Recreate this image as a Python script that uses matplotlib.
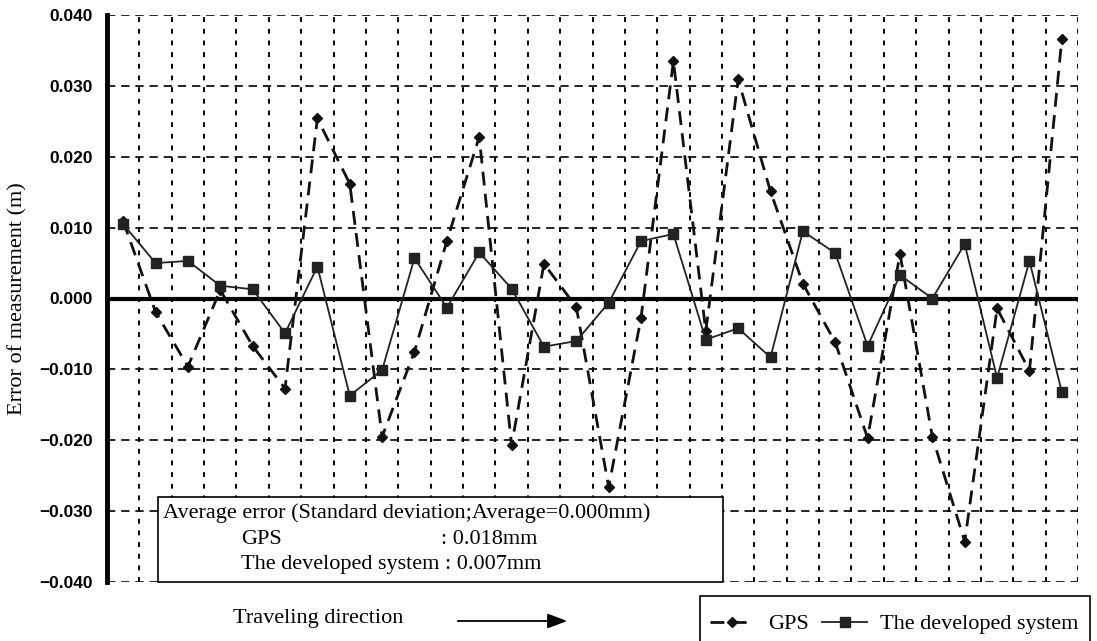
import numpy as np
import matplotlib
matplotlib.use("Agg")
import matplotlib.pyplot as plt
from matplotlib.patches import Rectangle

# measurement points along the travel path (30 points)
points = list(range(30))

# error of GPS (m)
gps = [0.0109, -0.0019, -0.0096, 0.0012, -0.0067, -0.0127, 0.0254, 0.0162, -0.0195, -0.0075,
       0.0081, 0.0228, -0.0207, 0.0049, -0.0012, -0.0266, -0.0027, 0.0335, -0.0046, 0.0309,
       0.0151, 0.0021, -0.0062, -0.0197, 0.0063, -0.0195, -0.0343, -0.0014, -0.0102, 0.0366]

# error of the developed system (m)
developed = [0.0105, 0.0050, 0.0053, 0.0018, 0.0013, -0.0049, 0.0045, -0.0137, -0.0101, 0.0057,
             -0.0013, 0.0065, 0.0014, -0.0068, -0.0060, -0.0006, 0.0081, 0.0091, -0.0058, -0.0042,
             -0.0083, 0.0095, 0.0064, -0.0067, 0.0033, 0.0000, 0.0077, -0.0112, 0.0053, -0.0132]

yticks = [-0.04, -0.03, -0.02, -0.01, 0.0, 0.01, 0.02, 0.03, 0.04]
ytick_labels = ["\u22120.040", "\u22120.030", "\u22120.020", "\u22120.010", "0.000",
                "0.010", "0.020", "0.030", "0.040"]

W, H = 1097, 641
fig = plt.figure(figsize=(W / 100, H / 100), dpi=100)
ax = fig.add_axes([107 / W, 1 - 582 / H, (1078 - 107) / W, (582 - 15) / H])

serif = "Liberation Serif"

# grid: dashed horizontals, dotted verticals at point boundaries
ax.set_xlim(-0.5, 29.5)
ax.set_ylim(-0.04, 0.04)
ax.set_xticks(np.arange(-0.5, 30, 1))
ax.set_xticklabels([])
ax.set_yticks(yticks)
ax.set_yticklabels(ytick_labels, fontfamily="Liberation Sans", fontweight="bold", fontsize=12.5)
ax.tick_params(length=0, pad=10)
ax.grid(axis="y", color="black", linestyle=(0, (5, 3.5)), linewidth=1.2)
ax.grid(axis="x", color="black", linestyle=(0, (2.5, 3.5)), linewidth=1.4)
for s in ["top", "right", "bottom"]:
  ax.spines[s].set_visible(False)
ax.spines["left"].set_linewidth(3.5)

ax.axhline(0, color="black", linewidth=3, zorder=2)

ax.plot(points, gps, color="#111111", linestyle=(0, (5, 3)), linewidth=2,
        marker="D", markersize=5.5, label="GPS", zorder=3)
ax.plot(points, developed, color="#222222", linestyle="-", linewidth=1.3,
        marker="s", markersize=7, label="The developed system", zorder=4)

ax.set_ylabel("Error of measurement (m)", fontfamily=serif, fontsize=16)
ax.yaxis.set_label_coords((27 - 107) / (1078 - 107), 0.5)

# statistics box
fig.patches.append(Rectangle((158 / W, 1 - 582 / H), (723 - 158) / W, (582 - 497) / H,
                             transform=fig.transFigure, facecolor="white",
                             edgecolor="black", linewidth=1.2, zorder=5))
fig.text(163 / W, 1 - 513 / H, "Average error (Standard deviation;Average=0.000mm)",
         fontfamily=serif, fontsize=16, va="center", zorder=6)
fig.text(241 / W, 1 - 539 / H, "GPS", fontfamily=serif, fontsize=16, va="center", zorder=6)
fig.text(441 / W, 1 - 539 / H, ": 0.018mm", fontfamily=serif, fontsize=16, va="center", zorder=6)
fig.text(241 / W, 1 - 565 / H, "The developed system : 0.007mm", fontfamily=serif,
         fontsize=16, va="center", zorder=6)

# travel direction
fig.text(233 / W, 1 - 618 / H, "Traveling direction", fontfamily=serif, fontsize=16, va="center")
ax.annotate("", xy=(570 / W, 1 - 621 / H), xytext=(455 / W, 1 - 621 / H),
            xycoords="figure fraction", textcoords="figure fraction",
            arrowprops=dict(arrowstyle="-|>,head_length=1.2,head_width=0.45",
                            color="black", linewidth=1.3))

# legend box (bottom runs off the picture)
fig.patches.append(Rectangle((700 / W, 1 - 655 / H), (1090 - 700) / W, (655 - 596) / H,
                             transform=fig.transFigure, facecolor="none",
                             edgecolor="black", linewidth=1.2))
leg = ax.legend(loc="center left", bbox_to_anchor=(700 / W, 1 - 624 / H),
                bbox_transform=fig.transFigure, ncol=2, frameon=False,
                prop={"family": serif, "size": 16}, handlelength=2.0, columnspacing=0.62,
                handletextpad=0.6, borderpad=0.45, borderaxespad=0)

fig.savefig("out.png", dpi=100)
